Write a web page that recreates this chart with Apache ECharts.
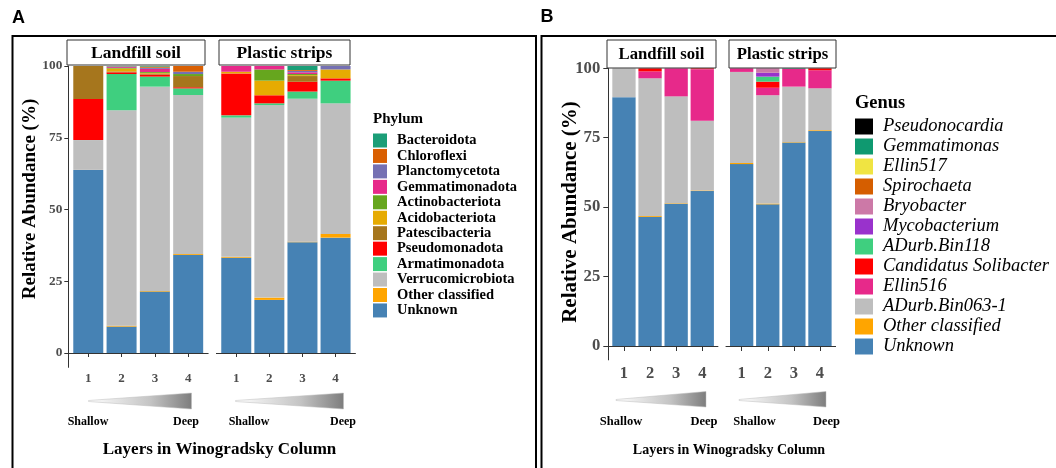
<!DOCTYPE html>
<html><head><meta charset="utf-8">
<script src="https://cdn.jsdelivr.net/npm/echarts@6/dist/echarts.min.js"></script>
<style>html,body{margin:0;padding:0;background:#fff}#c{width:1056px;height:468px}</style>
</head><body><div id="c"></div>
<script>
// ---------- DATA ----------
const layers = ['1', '2', '3', '4'];
const layerPos = [1, 2, 3, 4];
const facets = ['Landfill soil', 'Plastic strips'];
const yTicks = [0, 25, 50, 75, 100];

// Phylum (panel A): 8 values = Landfill layers 1-4, Plastic layers 1-4 (%)
const phylumNames = ['Unknown', 'Other classified', 'Verrucomicrobiota', 'Armatimonadota', 'Pseudomonadota',
  'Patescibacteria', 'Acidobacteriota', 'Actinobacteriota', 'Gemmatimonadota', 'Planctomycetota', 'Chloroflexi', 'Bacteroidota'];
const pUnknown      = [63.8, 9.2, 21.4, 34.2, 33.2, 18.5, 38.6, 40.2];
const pOther        = [0.0, 0.3, 0.2, 0.3, 0.3, 0.8, 0.2, 1.3];
const pVerruco      = [10.4, 75.1, 71.2, 55.4, 48.5, 67.1, 49.8, 45.5];
const pArmat        = [0.0, 12.6, 3.5, 2.3, 0.8, 0.6, 2.5, 7.9];
const pPseudo       = [14.3, 0.6, 0.7, 0.4, 14.6, 2.8, 3.4, 0.8];
const pPatesci      = [11.5, 0.3, 0.4, 3.9, 0.0, 0.0, 2.0, 0.0];
const pAcido        = [0.0, 1.0, 0.2, 0.0, 0.6, 5.1, 0.3, 3.1];
const pActino       = [0.0, 0.2, 0.3, 0.7, 0.0, 3.9, 0.4, 0.0];
const pGemmat       = [0.0, 0.3, 1.1, 0.0, 2.0, 1.2, 0.6, 0.0];
const pPlancto      = [0.0, 0.2, 0.4, 0.8, 0.0, 0.0, 0.5, 1.2];
const pChloro       = [0.0, 0.1, 0.4, 2.0, 0.0, 0.0, 0.3, 0.0];
const pBactero      = [0.0, 0.1, 0.2, 0.0, 0.0, 0.0, 1.4, 0.0];
const phylumValues = [pUnknown, pOther, pVerruco, pArmat, pPseudo, pPatesci, pAcido, pActino, pGemmat, pPlancto, pChloro, pBactero];

// Genus (panel B)
const genusNames = ['Unknown', 'Other classified', 'ADurb.Bin063-1', 'Ellin516', 'Candidatus Solibacter', 'ADurb.Bin118',
  'Mycobacterium', 'Bryobacter', 'Spirochaeta', 'Ellin517', 'Gemmatimonas', 'Pseudonocardia'];
const gUnknown   = [89.6, 46.5, 51.2, 55.8, 65.5, 51.0, 73.3, 77.4];
const gOther     = [0.0, 0.3, 0.2, 0.2, 0.4, 0.3, 0.2, 0.3];
const gBin063    = [10.4, 49.6, 38.5, 25.1, 32.8, 39.0, 19.9, 15.1];
const gEllin516  = [0.0, 2.5, 10.1, 18.6, 1.3, 2.7, 6.4, 6.5];
const gSoli      = [0.0, 1.1, 0.0, 0.3, 0.0, 2.2, 0.0, 0.7];
const gBin118    = [0.0, 0.0, 0.0, 0.0, 0.0, 1.8, 0.0, 0.0];
const gMyco      = [0.0, 0.0, 0.0, 0.0, 0.0, 1.4, 0.0, 0.0];
const gBryo      = [0.0, 0.0, 0.0, 0.0, 0.0, 1.6, 0.0, 0.0];
const gSpiro     = [0.0, 0.0, 0.0, 0.0, 0.0, 0.0, 0.0, 0.0];
const gEllin517  = [0.0, 0.0, 0.0, 0.0, 0.0, 0.0, 0.0, 0.0];
const gGemmatim  = [0.0, 0.0, 0.0, 0.0, 0.0, 0.0, 0.2, 0.0];
const gPseudono  = [0.0, 0.0, 0.0, 0.0, 0.0, 0.0, 0.0, 0.0];
const genusValues = [gUnknown, gOther, gBin063, gEllin516, gSoli, gBin118, gMyco, gBryo, gSpiro, gEllin517, gGemmatim, gPseudono];

// ---------- STYLES ----------
const phylumColors = {
  'Bacteroidota': '#1b9e77', 'Chloroflexi': '#d95f02', 'Planctomycetota': '#7570b3', 'Gemmatimonadota': '#e7298a',
  'Actinobacteriota': '#66a61e', 'Acidobacteriota': '#e6ab02', 'Patescibacteria': '#a6761d', 'Pseudomonadota': '#ff0000',
  'Armatimonadota': '#3fcf7f', 'Verrucomicrobiota': '#bebebe', 'Other classified': '#ffa500', 'Unknown': '#4682b4'
};
const genusColors = {
  'Pseudonocardia': '#000000', 'Gemmatimonas': '#0f9970', 'Ellin517': '#f0e442', 'Spirochaeta': '#d55e00',
  'Bryobacter': '#cc79a7', 'Mycobacterium': '#9932cc', 'ADurb.Bin118': '#3fcf7f', 'Candidatus Solibacter': '#ff0000',
  'Ellin516': '#e7298a', 'ADurb.Bin063-1': '#bebebe', 'Other classified': '#ffa500', 'Unknown': '#4682b4'
};
const SERIF = 'Liberation Serif';
const AX = '#333333';
const TICKC = '#4d4d4d';

// facet layout: [left of axis range (x=0.4), px per layer, top (y=100), px per %]
const facetBox = [
  [68.3, 33.3, 66, 2.87],
  [216.4, 33.1, 66, 2.87],
  [608.3, 26.1, 68.3, 2.777],
  [726.0, 26.1, 68.3, 2.777]
];
const grids = [];
facetBox.forEach(b => grids.push({left: b[0], top: b[2], width: 4.2 * b[1], height: 105 * b[3]}));          // axis display grids
facetBox.forEach(b => grids.push({left: b[0] + 0.1 * b[1], top: b[2], width: 4 * b[1], height: 105 * b[3]})); // bar grids

const xAxes = [], yAxes = [];
function xAxDisplay(gi, fs, margin, tl) {
  return {type: 'value', gridIndex: gi, min: 0.4, max: 4.6,
    axisLine: {show: true, lineStyle: {color: AX, width: 1}},
    axisTick: {show: true, customValues: layerPos, length: tl, lineStyle: {color: AX}},
    axisLabel: {customValues: layerPos, fontFamily: SERIF, fontWeight: 'bold', fontSize: fs, color: TICKC, margin: margin},
    splitLine: {show: false}};
}
function yAxDisplay(gi, show, fs, margin, tl) {
  return {type: 'value', gridIndex: gi, min: -5, max: 100, show: show,
    axisLine: {show: true, lineStyle: {color: AX, width: 1}},
    axisTick: {show: true, customValues: yTicks, length: tl, lineStyle: {color: AX}},
    axisLabel: {customValues: yTicks, fontFamily: SERIF, fontWeight: 'bold', fontSize: fs, color: TICKC, margin: margin},
    splitLine: {show: false}};
}
xAxes.push(xAxDisplay(0, 13, 5, 4), xAxDisplay(1, 13, 5, 4), xAxDisplay(2, 16.5, 5, 5), xAxDisplay(3, 16.5, 5, 5));
yAxes.push(yAxDisplay(0, true, 13.3, 6, 4), yAxDisplay(1, false, 13.3, 6, 4), yAxDisplay(2, true, 16.7, 8, 5), yAxDisplay(3, false, 16.7, 8, 5));
for (let g = 4; g < 8; g++) {
  xAxes.push({type: 'category', gridIndex: g, data: layers, show: false, boundaryGap: true});
  yAxes.push({type: 'value', gridIndex: g, min: -5, max: 100, show: false, splitLine: {show: false}});
}

const series = [];
function addSeries(names, values, colors, gridOffset, barW) {
  names.forEach((name, k) => {
    for (let f = 0; f < 2; f++) {
      const ai = 4 + gridOffset + f;
      series.push({
        type: 'bar', name: name, xAxisIndex: ai, yAxisIndex: ai,
        stack: 'g' + ai, barWidth: barW, silent: true,
        itemStyle: {color: colors[name]},
        data: values[k].slice(f * 4, f * 4 + 4)
      });
    }
  });
}
addSeries(phylumNames, phylumValues, phylumColors, 0, 30);
addSeries(genusNames, genusValues, genusColors, 2, 23.3);

function txt(x, y, s, font, opts) {
  return {type: 'text', x: x, y: y, silent: true,
    style: Object.assign({text: s, font: font, fill: '#000', align: 'center', verticalAlign: 'middle'}, opts || {})};
}
function strip(x, y, w, h, label, fs) {
  return [
    {type: 'rect', shape: {x: x, y: y, width: w, height: h}, style: {fill: '#fff', stroke: '#333', lineWidth: 1}, silent: true, z: 10},
    Object.assign(txt(x + w / 2, y + h / 2 + 1, label, 'bold ' + fs + 'px "' + SERIF + '"'), {z: 11})
  ];
}
function wedge(x0, x1, yMid, yTop, yBot) {
  return {type: 'polygon', silent: true,
    shape: {points: [[x0, yMid], [x1, yTop], [x1, yBot], [x0, yMid + 1]]},
    style: {fill: new echarts.graphic.LinearGradient(0, 0, 1, 0, [{offset: 0, color: '#ffffff'}, {offset: 0.6, color: '#c4c4c4'}, {offset: 1, color: '#7d7d7d'}]),
      stroke: '#bdbdbd', lineWidth: 0.5}};
}

const gfx = [
  {type: 'rect', shape: {x: 12.5, y: 36, width: 523.5, height: 460}, style: {fill: 'none', stroke: '#000', lineWidth: 2}, silent: true},
  {type: 'rect', shape: {x: 541.5, y: 36, width: 540, height: 460}, style: {fill: 'none', stroke: '#000', lineWidth: 2}, silent: true},
  txt(18.5, 18, 'A', 'bold 18px "Liberation Sans"'),
  txt(547, 17, 'B', 'bold 18px "Liberation Sans"'),
  ...strip(67, 40, 138, 25, facets[0], 17.5),
  ...strip(219, 40, 131, 25, facets[1], 17.5),
  ...strip(607, 40, 109, 28, facets[0], 16.7),
  ...strip(729, 40, 107, 28, facets[1], 16.7),
  wedge(88.5, 191.5, 400.5, 393, 409),
  wedge(235.5, 343.5, 400.5, 393, 409),
  wedge(616, 706, 399.5, 391.5, 407),
  wedge(739, 826, 399.5, 391.5, 407),
  txt(88, 421.5, 'Shallow', 'bold 12px "' + SERIF + '"'),
  txt(186, 421.5, 'Deep', 'bold 12px "' + SERIF + '"'),
  txt(249, 421.5, 'Shallow', 'bold 12px "' + SERIF + '"'),
  txt(343, 421.5, 'Deep', 'bold 12px "' + SERIF + '"'),
  txt(621, 421.5, 'Shallow', 'bold 12.5px "' + SERIF + '"'),
  txt(704, 421.5, 'Deep', 'bold 12.5px "' + SERIF + '"'),
  txt(754.5, 421.5, 'Shallow', 'bold 12.5px "' + SERIF + '"'),
  txt(826.5, 421.5, 'Deep', 'bold 12.5px "' + SERIF + '"'),
  txt(219.5, 449.5, 'Layers in Winogradsky Column', 'bold 17px "' + SERIF + '"'),
  txt(729, 450.5, 'Layers in Winogradsky Column', 'bold 14px "' + SERIF + '"'),
  Object.assign(txt(30, 199, 'Relative Abundance (%)', 'bold 19px "' + SERIF + '"'), {rotation: Math.PI / 2}),
  Object.assign(txt(571, 212, 'Relative Abundance (%)', 'bold 21px "' + SERIF + '"'), {rotation: Math.PI / 2}),
  txt(373, 119, 'Phylum', 'bold 15px "' + SERIF + '"', {align: 'left'}),
  txt(855, 103, 'Genus', 'bold 18.4px "' + SERIF + '"', {align: 'left'})
];

const legendA = phylumNames.slice().reverse();
const legendB = genusNames.slice().reverse();

const chart = echarts.init(document.getElementById('c'), null, {renderer: 'canvas'});
chart.setOption({
  animation: false,
  backgroundColor: '#fff',
  grid: grids,
  xAxis: xAxes,
  yAxis: yAxes,
  legend: [
    {orient: 'vertical', left: 373, top: 133, itemWidth: 14, itemHeight: 14, itemGap: 0.45, padding: 0, icon: 'rect',
      selectedMode: false, data: legendA,
      textStyle: {fontFamily: SERIF, fontWeight: 'bold', fontSize: 14.5, color: '#000', padding: [0, 0, 0, 5]}},
    {orient: 'vertical', left: 855, top: 117, itemWidth: 18, itemHeight: 16, itemGap: 1, padding: 0, icon: 'rect',
      selectedMode: false, data: legendB,
      textStyle: {fontFamily: SERIF, fontStyle: 'italic', fontSize: 18.5, color: '#000', padding: [0, 0, 0, 5]}}
  ],
  series: series,
  graphic: gfx
});
</script></body></html>
